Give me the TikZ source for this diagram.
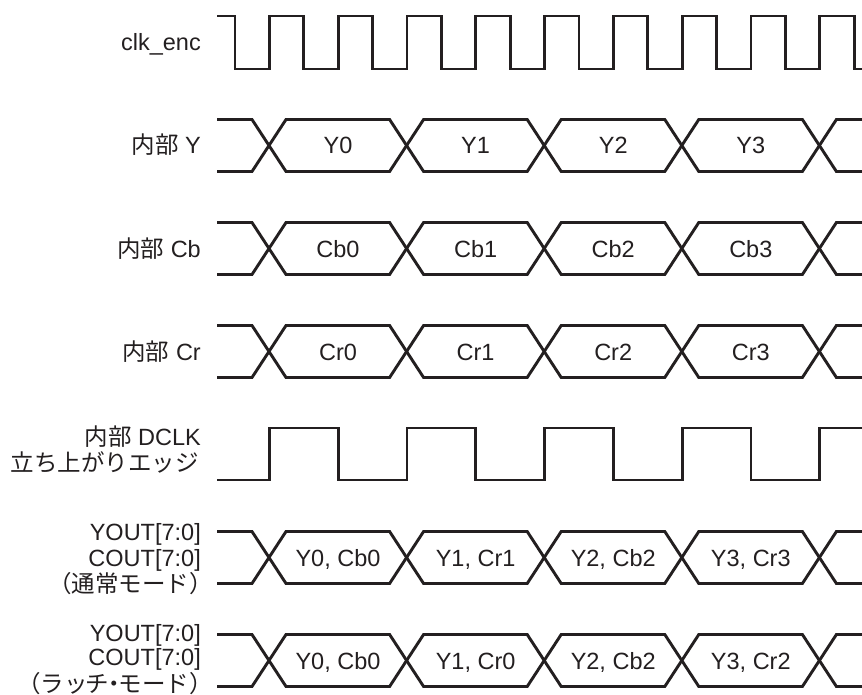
\documentclass[tikz,border=0pt]{standalone}
\usepackage{fontspec}
\setmainfont{Liberation Sans}
\newfontfamily\jp{Noto Sans CJK JP}
\definecolor{ink}{HTML}{231F20}
\newcommand\busrow[1]{%
  \draw[sig] (217,{#1-26}) -- (252,{#1-26}) -- (286,{#1+26}) -- (389.6,{#1+26}) -- (423.6,{#1-26}) -- (527.2,{#1-26}) -- (561.2,{#1+26}) -- (664.8,{#1+26}) -- (698.8,{#1-26}) -- (802.4,{#1-26}) -- (836.4,{#1+26}) -- (862,{#1+26});
  \draw[sig] (217,{#1+26}) -- (252,{#1+26}) -- (286,{#1-26}) -- (389.6,{#1-26}) -- (423.6,{#1+26}) -- (527.2,{#1+26}) -- (561.2,{#1-26}) -- (664.8,{#1-26}) -- (698.8,{#1+26}) -- (802.4,{#1+26}) -- (836.4,{#1-26}) -- (862,{#1-26});
}
\begin{document}
\begin{tikzpicture}[x=1pt,y=-1pt,
  sig/.style={draw=ink,line width=2.9pt,line join=miter},
  lab/.style={anchor=base east,inner sep=0pt,text=ink,font=\fontsize{23.5}{26}\selectfont},
  val/.style={anchor=base,inner sep=0pt,text=ink,font=\fontsize{23.5}{26}\selectfont}]
\useasboundingbox[fill=white] (0,0) rectangle (862,695);

% clk_enc
\node[lab] (lclk) at (201,51) {clk\_enc};
\draw[sig] (217,16) foreach \k in {0,...,8} { -- ({235+68.8*\k},16) -- ({235+68.8*\k},69) -- ({269.4+68.8*\k},69) -- ({269.4+68.8*\k},16) } -- (854.2,16) -- (854.2,69) -- (862,69);

% internal Y
\node[lab] (ly) at (201,154) {{\jp 内部} Y};
\busrow{145.5}
\node[val] (y0) at (338,154) {Y0};
\node[val] (y1) at (475.6,154) {Y1};
\node[val] (y2) at (613.2,154) {Y2};
\node[val] (y3) at (750.8,154) {Y3};

% internal Cb
\node[lab] (lcb) at (201,257) {{\jp 内部} Cb};
\busrow{248.5}
\node[val] (cb0) at (338,257) {Cb0};
\node[val] (cb1) at (475.6,257) {Cb1};
\node[val] (cb2) at (613.2,257) {Cb2};
\node[val] (cb3) at (750.8,257) {Cb3};

% internal Cr
\node[lab] (lcr) at (201,360) {{\jp 内部} Cr};
\busrow{351.5}
\node[val] (cr0) at (338,360) {Cr0};
\node[val] (cr1) at (475.6,360) {Cr1};
\node[val] (cr2) at (613.2,360) {Cr2};
\node[val] (cr3) at (750.8,360) {Cr3};

% internal DCLK
\node[lab] (ldclk1) at (201,445) {{\jp 内部} DCLK};
\node[lab] (ldclk2) at (199,471) {\jp 立ち上がりエッジ};
\draw[sig] (217,480) foreach \k in {0,...,3} { -- ({269.4+137.6*\k},480) -- ({269.4+137.6*\k},428) -- ({338.2+137.6*\k},428) -- ({338.2+137.6*\k},480) } -- (819.8,480) -- (819.8,428) -- (862,428);

% YOUT/COUT normal mode
\node[lab] (ln1) at (201,540) {YOUT[7:0]};
\node[lab] (ln2) at (201,566) {COUT[7:0]};
\node[lab] (ln3) at (213,592) {\jp （通常モード）};
\busrow{557.5}
\node[val] (n0) at (338,566) {Y0, Cb0};
\node[val] (n1) at (475.6,566) {Y1, Cr1};
\node[val] (n2) at (613.2,566) {Y2, Cb2};
\node[val] (n3) at (750.8,566) {Y3, Cr3};

% YOUT/COUT latch mode
\node[lab] (lm1) at (201,641) {YOUT[7:0]};
\node[lab] (lm2) at (201,665.5) {COUT[7:0]};
\node[lab] (lm3) at (213,692.5) {\jp （ラッ\kern-0.08emチ\kern-0.3em・\kern-0.3emモード）};
\busrow{660.5}
\node[val] (m0) at (338,669) {Y0, Cb0};
\node[val] (m1) at (475.6,669) {Y1, Cr0};
\node[val] (m2) at (613.2,669) {Y2, Cb2};
\node[val] (m3) at (750.8,669) {Y3, Cr2};
\end{tikzpicture}
\end{document}
